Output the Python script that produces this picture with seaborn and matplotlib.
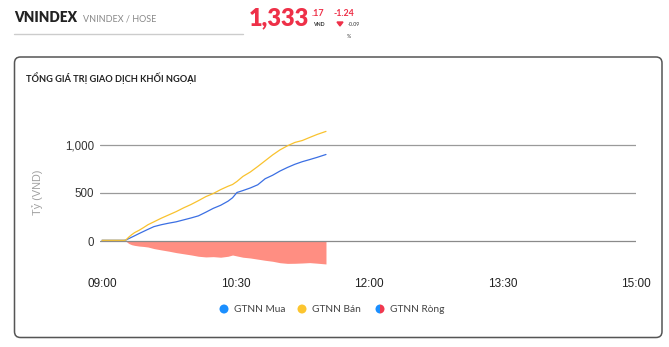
import matplotlib
matplotlib.use("Agg")
import matplotlib.pyplot as plt
from matplotlib.patches import FancyBboxPatch, Wedge, Circle, Polygon
from matplotlib.lines import Line2D
import seaborn as sns
import pandas as pd

# ---- data (minutes after 09:00) ----
minutes = [0, 5, 10, 15, 16, 18, 20, 22, 25, 28, 31, 35, 40, 45, 50, 55, 60, 65, 70, 75,
           80, 85, 88, 91, 95, 100, 105, 110, 115, 120, 125, 130, 135, 140, 145, 151]
gtnn_ban = [8, 8, 8, 8, 10, 40, 66, 88, 112, 140, 170, 200, 238, 272, 306, 345, 380, 420, 462, 494,
            535, 570, 588, 620, 672, 718, 775, 835, 895, 948, 990, 1025, 1045, 1077, 1108, 1140]
gtnn_mua = [8, 8, 8, 8, 10, 25, 40, 55, 78, 100, 122, 150, 170, 186, 200, 220, 240, 262, 300, 340,
            372, 415, 450, 505, 525, 552, 585, 648, 684, 728, 765, 798, 825, 847, 870, 900]
gtnn_rong = [0, 0, 0, 0, 0, -25, -38, -45, -52, -56, -62, -78, -92, -105, -120, -132, -144, -158, -165, -162,
             -168, -158, -145, -155, -168, -176, -188, -200, -210, -225, -232, -231, -228, -224, -230, -238]
xtick_pos = [0, 90, 180, 270, 360]
xtick_labels = ["09:00", "10:30", "12:00", "13:30", "15:00"]
ytick_pos = [0, 500, 1000]
ytick_labels = ["0", "500", "1,000"]

sns.set_theme(style="white")
plt.rcParams['font.family'] = ['Liberation Sans', 'DejaVu Sans']

W, H = 669, 347
fig = plt.figure(figsize=(W / 100, H / 100), dpi=100)

def fx(px):
    return px / W

def fy(py):
    return 1 - py / H

LATO = ['Lato', 'Noto Sans', 'DejaVu Sans']
RED = '#ee3048'

# ---- header ----
fig.text(fx(14), fy(18), "VNINDEX", family=LATO, weight='heavy', fontsize=9.8,
         color='#222222', va='center', ha='left')
fig.text(fx(83), fy(19), "VNINDEX / HOSE", family=LATO, fontsize=6.5,
         color='#888888', va='center', ha='left')
fig.add_artist(Line2D([fx(14), fx(243)], [fy(34), fy(34)], color='#cccccc', lw=1))
fig.text(fx(249), fy(18), "1,333", family=LATO, weight='heavy', fontsize=17,
         color=RED, va='center', ha='left')
fig.text(fx(312), fy(13), ".17", family=LATO, weight='bold', fontsize=6.5, color=RED,
         va='center', ha='left')
fig.text(fx(313), fy(25), "VND", family=LATO, weight='bold', fontsize=3.8, color='#333333',
         va='center', ha='left')
fig.text(fx(334), fy(13), "-1.24", family=LATO, weight='bold', fontsize=6.3, color=RED,
         va='center', ha='left')
fig.add_artist(Polygon([[fx(337), fy(22)], [fx(343), fy(22)], [fx(340), fy(26)]],
                       closed=True, color=RED, transform=fig.transFigure))
fig.text(fx(348), fy(24), "-0.09", family=LATO, fontsize=3.8, color='#333333',
         va='center', ha='left')
fig.text(fx(349), fy(37), "%", family=LATO, fontsize=3.8, color='#333333',
         va='center', ha='center')

# ---- card box ----
box = FancyBboxPatch((0.145, (H - 337.5) / 100), 6.475, 2.805,
                     boxstyle="round,pad=0,rounding_size=0.06",
                     transform=fig.dpi_scale_trans, fill=False,
                     edgecolor='#555555', lw=1.1)
fig.add_artist(box)
fig.text(fx(26), fy(78), "TỔNG GIÁ TRỊ GIAO DỊCH KHỐI NGOẠI", family=LATO, weight='bold',
         fontsize=6.7, color='#222222', va='center', ha='left')

# ---- plot axes ----
xmin, xmax = -1.5, 360
ymin, ymax = -280, 1300
left_px = 102 + xmin * (534 / 360)
ax = fig.add_axes([fx(left_px), fy(268), fx(636) - fx(left_px), fy(116) - fy(268)])

df = pd.DataFrame({
    "minute": minutes * 2,
    "value": gtnn_mua + gtnn_ban,
    "series": ["GTNN Mua"] * len(minutes) + ["GTNN Bán"] * len(minutes),
})
ax.fill_between(minutes, gtnn_rong, 0, color='#ff8e82', lw=0, zorder=1)
sns.lineplot(data=df, x="minute", y="value", hue="series",
             palette={"GTNN Mua": "#3b6fe3", "GTNN Bán": "#f9c22e"},
             linewidth=0.9, ax=ax, legend=False, zorder=3)

ax.set_xlim(xmin, xmax)
ax.set_ylim(ymin, ymax)
ax.set_xticks(xtick_pos)
ax.set_xticklabels(xtick_labels)
ax.set_yticks(ytick_pos)
ax.set_yticklabels(ytick_labels)
ax.set_xlabel("")
ax.set_ylabel("")
ax.grid(False)
for y in ytick_pos:
    ax.axhline(y, color='#9a9a9a' if y else '#8a8a8a', lw=0.9, zorder=2)
for s in ax.spines.values():
    s.set_visible(False)
ax.tick_params(axis='x', length=0, pad=7.5, labelsize=8.5, labelcolor='#222222')
ax.tick_params(axis='y', length=0, pad=4, labelsize=8.3, labelcolor='#333333')
ax.patch.set_alpha(0)

fig.text(fx(38), fy(192), "Tỷ (VND)", rotation=90, fontsize=7.8, color='#a0a0a0',
         va='center', ha='center')

# ---- legend ----
r = 0.045
def pt(px, py):
    return (px / 100, (H - py) / 100)

fig.add_artist(Circle(pt(224, 309), r, transform=fig.dpi_scale_trans, color='#1b8fff', lw=0))
fig.add_artist(Circle(pt(302, 309), r, transform=fig.dpi_scale_trans, color='#fcc52f', lw=0))
fig.add_artist(Wedge(pt(380, 309), r, 90, 270, transform=fig.dpi_scale_trans, color='#1b8fff', lw=0))
fig.add_artist(Wedge(pt(380, 309), r, -90, 90, transform=fig.dpi_scale_trans, color='#f0394f', lw=0))
for px, label in [(234, "GTNN Mua"), (312, "GTNN Bán"), (390, "GTNN Ròng")]:
    fig.text(fx(px), fy(309), label, family=LATO, fontsize=7.3, color='#444444',
             va='center', ha='left')

fig.savefig("out.png", dpi=100)
